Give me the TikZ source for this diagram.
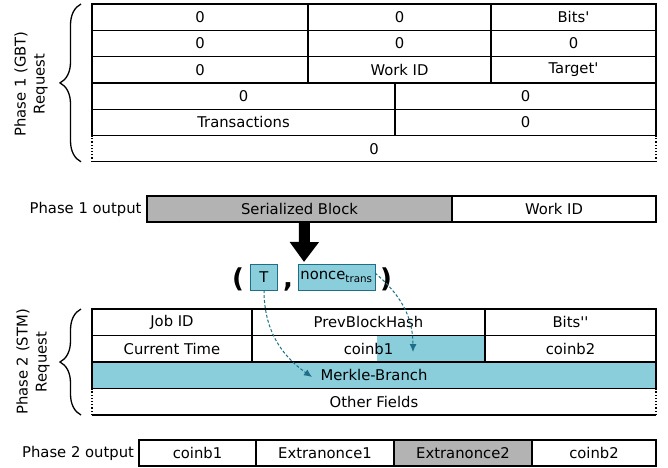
\documentclass[tikz,border=0pt]{standalone}
\usepackage{fontspec}
\setmainfont{DejaVu Sans}
\usetikzlibrary{arrows.meta, decorations.pathreplacing, positioning, backgrounds}
\definecolor{fieldblue}{HTML}{8ACEDC}
\definecolor{linkteal}{HTML}{1D6E86}
\definecolor{blockgray}{HTML}{B3B3B3}

\begin{document}
\begin{tikzpicture}[x=1pt, y=-1pt,
    every node/.style={font=\fontsize{14.8}{17}\selectfont},
    cell/.style={draw, line width=1.2pt, minimum height=26.3pt, inner sep=0pt, outer sep=0pt},
    openrow/.style={cell, draw=none},
    tbox/.style={draw=linkteal, fill=fieldblue, line width=1pt, minimum height=26pt,
        inner sep=0pt, outer sep=0pt},
    tuple/.style={font=\bfseries\fontsize{26}{26}\selectfont, inner sep=0pt, anchor=base},
    phase/.style={rotate=90, align=center, font=\fontsize{14.8}{19}\selectfont},
    brace/.style={decorate, decoration={brace, amplitude=21pt}, line width=1.3pt},
    bigarrow/.style={line width=11pt, -{Triangle[width=28pt, length=20pt]}},
    linkarrow/.style={draw=linkteal, line width=1pt, dash pattern=on 3pt off 2pt,
        -{Latex[length=8pt, width=7pt]}}
]
\useasboundingbox (0,0) rectangle (668,467);

% phase 1 request
\node[cell, minimum width=216pt, anchor=north west] (g11) at (92,4) {0};
\node[cell, minimum width=183pt, right=0pt of g11] (g12) {0};
\node[cell, minimum width=165pt, right=0pt of g12] (g13) {Bits\textquotesingle};
\node[cell, minimum width=216pt, below=0pt of g11.south west, anchor=north west] (g21) {0};
\node[cell, minimum width=183pt, right=0pt of g21] (g22) {0};
\node[cell, minimum width=165pt, right=0pt of g22] (g23) {0};
\node[cell, minimum width=216pt, below=0pt of g21.south west, anchor=north west] (g31) {0};
\node[cell, minimum width=183pt, right=0pt of g31] (g32) {Work ID};
\node[cell, minimum width=165pt, right=0pt of g32] (g33) {Target\textquotesingle};
\node[cell, minimum width=303pt, below=0pt of g31.south west, anchor=north west] (g41) {0};
\node[cell, minimum width=261pt, right=0pt of g41] (g42) {0};
\node[cell, minimum width=303pt, below=0pt of g41.south west, anchor=north west] (g51) {Transactions};
\node[cell, minimum width=261pt, right=0pt of g51] (g52) {0};
\node[openrow, minimum width=564pt, below=0pt of g51.south west, anchor=north west] (g61) {0};
\draw[line width=1.2pt] (g61.south west) -- (g61.south east);
\draw[line width=1.2pt, dotted] (g61.south west) -- (g61.north west) (g61.south east) -- (g61.north east);
\draw[brace] ([xshift=-11pt]g61.south west) -- ([xshift=-11pt]g11.north west);
\node[phase] (p1req) at (31,84) {Phase 1 (GBT)\\Request};

% phase 1 output
\node[cell, fill=blockgray, minimum width=305pt, minimum height=26pt, anchor=north west] (ser) at (147,196) {Serialized Block};
\node[cell, minimum width=204pt, minimum height=26pt, right=0pt of ser] (wid) {Work ID};
\node[left=2pt of ser] (p1out) {Phase 1 output};

\coordinate (tupin) at (304,262);
\draw[bigarrow] ([xshift=5pt]ser.south) -- (tupin);

% tuple
\node[tbox, minimum width=27pt] (tval) at (264,277) {T};
\node[tbox, minimum width=77pt] (nonce) at (336.5,277) {nonce\textsubscript{trans}};
\node[tuple] (lpar) at (238,287) {(};
\node[tuple] (comma) at (288,287) {,};
\node[tuple] (rpar) at (386,287) {)};

% phase 2 request
\node[cell, minimum width=160pt, minimum height=26.5pt, anchor=north west] (jid) at (92,309) {Job ID};
\node[cell, minimum width=233pt, minimum height=26.5pt, right=0pt of jid] (pbh) {PrevBlockHash};
\node[cell, minimum width=171pt, minimum height=26.5pt, right=0pt of pbh] (bits) {Bits\textquotesingle\textquotesingle};
\node[cell, minimum width=160pt, minimum height=26.5pt, below=0pt of jid.south west, anchor=north west] (ctime) {Current Time};
\node[cell, minimum width=233pt, minimum height=26.5pt, right=0pt of ctime] (cb1) {coinb1};
\node[cell, minimum width=171pt, minimum height=26.5pt, right=0pt of cb1] (cb2) {coinb2};
\node[cell, fill=fieldblue, minimum width=564pt, minimum height=26.5pt, below=0pt of ctime.south west, anchor=north west] (merkle) {Merkle-Branch};
\node[openrow, minimum width=564pt, minimum height=26.5pt, below=0pt of merkle.south west, anchor=north west] (other) {Other Fields};
\draw[line width=1.2pt] (other.south west) -- (other.south east);
\draw[line width=1.2pt, dotted] (other.south west) -- (other.north west) (other.south east) -- (other.north east);
\begin{scope}[on background layer]
\fill[fieldblue] ([xshift=-108pt]cb1.north east) rectangle (cb1.south east);
\end{scope}
\draw[brace] ([xshift=-11pt]other.south west) -- ([xshift=-11pt]jid.north west);
\node[phase] (p2req) at (33,362) {Phase 2 (STM)\\Request};

% links from the tuple
\coordinate (mbtip) at (312,377);
\coordinate (cbtip) at (413,352);
\draw[linkarrow] (tval.south) to[out=-90, in=145] (mbtip);
\draw[linkarrow] ([yshift=4pt]nonce.east) to[out=-40, in=90] (cbtip);

% phase 2 output
\node[cell, minimum width=117pt, minimum height=26pt, anchor=north west] (o1) at (139,440) {coinb1};
\node[cell, minimum width=138pt, minimum height=26pt, right=0pt of o1] (o2) {Extranonce1};
\node[cell, fill=blockgray, minimum width=138pt, minimum height=26pt, right=0pt of o2] (o3) {Extranonce2};
\node[cell, minimum width=124pt, minimum height=26pt, right=0pt of o3] (o4) {coinb2};
\node[left=1.5pt of o1] (p2out) {Phase 2 output};
\end{tikzpicture}
\end{document}
